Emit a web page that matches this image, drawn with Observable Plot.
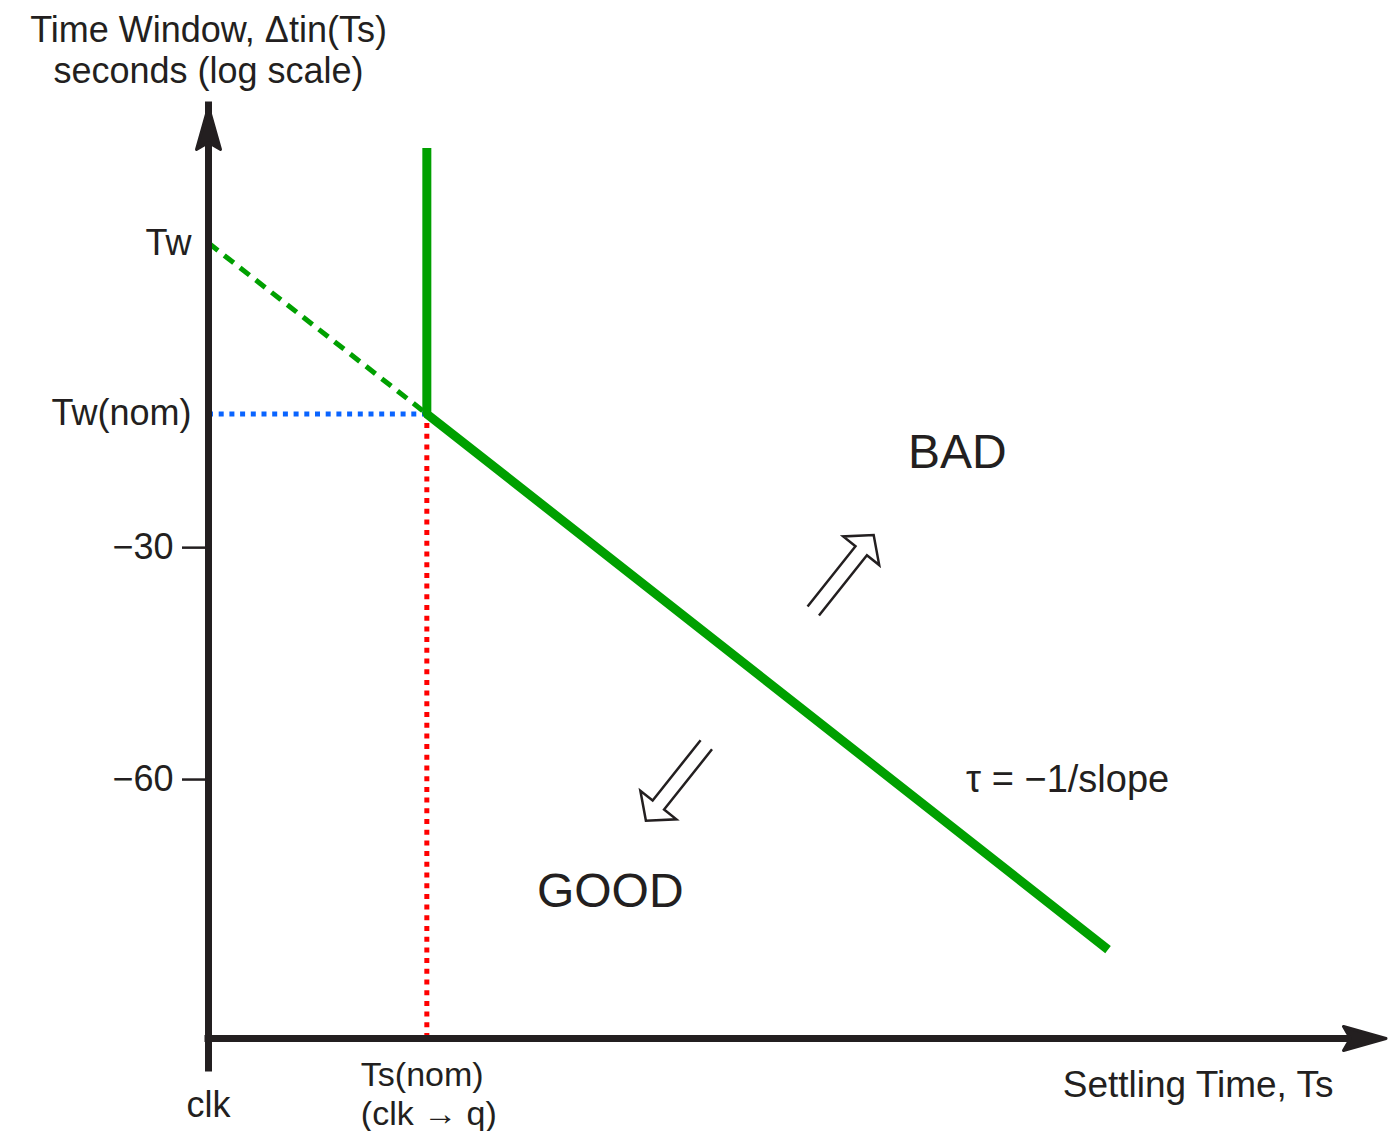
<!DOCTYPE html>
<html>
<head>
<meta charset="utf-8">
<script src="https://cdn.jsdelivr.net/npm/d3@7"></script>
<script src="https://cdn.jsdelivr.net/npm/@observablehq/plot@0.6"></script>
<style>
  html, body { margin: 0; padding: 0; background: #ffffff; }
  #chart svg { display: block; }
</style>
</head>
<body>
<div id="chart"></div>
<script>
// Settling time (Ts) vs. time window Δtin(Ts), schematic in arbitrary units.
const tsExtent = [0, 5.4];        // clk .. end of the settling-time axis
const twExtent = [-93.5, 27.2];   // bottom .. top of the time-window axis
const tsNom = 1;                  // Ts(nom) = clk → q
const twNom = -12.7;              // Tw(nom)
const twIntercept = 9.4;          // Tw, extrapolated back to clk
const yTicks = [-30, -60];

const namedLevels = [
  {label: "Tw", tw: twIntercept},
  {label: "Tw(nom)", tw: twNom}
];

// Boundary between good and bad operation
const boundary = [
  {ts: 1, tw: 21.7},
  {ts: 1, tw: -12.7},
  {ts: 4.12, tw: -82.0}
];
// Extrapolation of the sloped part back to clk
const extrapolation = [
  {ts: 0, tw: 9.4},
  {ts: 1, tw: -12.7}
];

const regionLabels = [
  {label: "BAD", ts: 3.43, tw: -17.7},
  {label: "GOOD", ts: 1.84, tw: -74.5}
];
const regionArrows = [
  {ts: 2.77, tw: -38.2},
  {ts: 2.28, tw: -55.5}
];
const arrowHeadings = [-51.5, 128.5];
const slopeNote = [{text: "τ = −1/slope", ts: 3.47, tw: -60}];

const yTitle = "Time Window, \u0394tin(Ts)\nseconds (log scale)";
const xTitle = "Settling Time, Ts";
const xNomLabel = "Ts(nom)\n(clk \u2192 q)";

const ink = "#231f20";
const green = "#00a000";
const font = "'Liberation Sans', Arial, Helvetica, sans-serif";

// Filled "stealth" head for the axis ends, tip at the origin pointing along +x
const stealthHead = {
  draw(ctx) {
    ctx.moveTo(-1.5, 0);
    ctx.lineTo(-44, -12);
    ctx.lineTo(-37, 0);
    ctx.lineTo(-44, 12);
    ctx.closePath();
  }
};
// Hollow double-line arrow, tail at the origin pointing along +x
const hollowArrow = {
  draw(ctx) {
    ctx.moveTo(0, -7.3);
    ctx.lineTo(77, -7.3);
    ctx.lineTo(77, -23);
    ctx.lineTo(97, 0);
    ctx.lineTo(77, 23);
    ctx.lineTo(77, 7.3);
    ctx.lineTo(0, 7.3);
  }
};

const chart = Plot.plot({
  width: 1398,
  height: 1131,
  marginLeft: 208,
  marginRight: 11,
  marginTop: 105,
  marginBottom: 93,
  x: {domain: tsExtent, axis: null},
  y: {domain: twExtent},
  style: {fontFamily: font, color: ink, background: "#ffffff", overflow: "visible"},
  marks: [
    // reference guides at the nominal point
    Plot.ruleY([twNom], {x1: tsExtent[0], x2: tsNom, stroke: "#0a64ff", strokeWidth: 5, strokeDasharray: "5,5.7"}),
    Plot.ruleX([tsNom], {y1: twExtent[0], y2: twNom, stroke: "#ff0000", strokeWidth: 5, strokeDasharray: "5,5.7"}),
    Plot.line(extrapolation, {x: "ts", y: "tw", stroke: green, strokeWidth: 5, strokeDasharray: "12,8", strokeLinecap: "butt"}),
    Plot.line(boundary, {x: "ts", y: "tw", stroke: green, strokeWidth: 9, strokeLinejoin: "miter", strokeLinecap: "butt"}),

    // axes with arrow heads
    Plot.ruleX([tsExtent[0]], {y1: twExtent[0], y2: twExtent[1], insetTop: 30, stroke: ink, strokeWidth: 7, strokeLinecap: "square"}),
    Plot.ruleY([twExtent[0]], {x1: tsExtent[0], x2: tsExtent[1], insetRight: 30, stroke: ink, strokeWidth: 7, strokeLinecap: "square"}),
    Plot.dot([twExtent[1]], {x: tsExtent[0], y: d => d, symbol: stealthHead, rotate: -90, fill: ink, stroke: ink, strokeWidth: 3, strokeLinejoin: "round"}),
    Plot.dot([tsExtent[1]], {x: d => d, y: twExtent[0], symbol: stealthHead, rotate: 0, fill: ink, stroke: ink, strokeWidth: 3, strokeLinejoin: "round"}),

    Plot.axisY(yTicks, {tickSize: 26, tickPadding: 9, fontSize: 36, strokeWidth: 2.5, stroke: ink, fill: ink, label: null}),
    Plot.axisX([tsExtent[0]], {tickSize: 27, tickPadding: 26, fontSize: 36, strokeWidth: 3, stroke: ink, fill: ink, tickFormat: () => "clk", label: null}),

    Plot.text(namedLevels, {x: tsExtent[0], y: "tw", text: "label", textAnchor: "end", dx: -17, fontSize: 36, fill: ink}),

    // region annotations
    Plot.dot(regionArrows, {x: "ts", y: "tw", symbol: hollowArrow, rotate: (d, i) => arrowHeadings[i], fill: "none", stroke: ink, strokeWidth: 2.5, strokeLinejoin: "miter"}),
    Plot.text(regionLabels, {x: "ts", y: "tw", text: "label", fontSize: 48, fill: ink}),
    Plot.text(slopeNote, {x: "ts", y: "tw", text: "text", textAnchor: "start", fontSize: 38, fill: ink}),

    // axis titles
    Plot.text([yTitle], {frameAnchor: "top-left", text: d => d, textAnchor: "middle", lineAnchor: "middle", lineHeight: 1.14, dy: -56.5, fontSize: 36, fill: ink}),
    Plot.text([xTitle], {frameAnchor: "bottom-right", text: d => d, textAnchor: "end", lineAnchor: "middle", dx: -54, dy: 47, fontSize: 37, fill: ink}),
    Plot.text([xNomLabel], {x: tsNom, frameAnchor: "bottom", text: d => d, textAnchor: "start", lineAnchor: "middle", lineHeight: 1.15, dx: -66, dy: 54.5, fontSize: 34, fill: ink})
  ]
});

document.getElementById("chart").append(chart);
</script>
</body>
</html>
